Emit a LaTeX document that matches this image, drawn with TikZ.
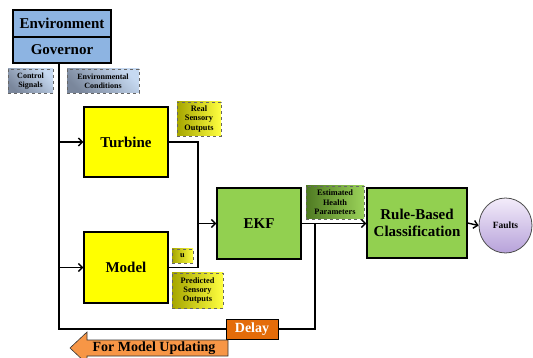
\documentclass[tikz,border=0pt]{standalone}
\usepackage{fontspec}
\setmainfont{Liberation Serif}
\usetikzlibrary{arrows.meta,shapes.geometric}
\definecolor{envblue}{HTML}{8DB4E2}
\definecolor{ylw}{HTML}{FFFF00}
\definecolor{grn}{HTML}{92D050}
\definecolor{dlyor}{HTML}{E46C0A}
\definecolor{fmuor}{HTML}{F79646}
\definecolor{bluA}{HTML}{7A879C}
\definecolor{bluB}{HTML}{C6D9F1}
\definecolor{ylwA}{HTML}{A6A600}
\definecolor{ylwB}{HTML}{FFFF40}
\definecolor{grnA}{HTML}{4F7A22}
\definecolor{grnB}{HTML}{9BD35A}
\definecolor{fltA}{HTML}{F3ECFA}
\definecolor{fltB}{HTML}{B7A2DA}
\tikzset{
  x=1pt, y=-1pt,
  box/.style={draw=black, line width=1.1pt, minimum width=#1, inner sep=0pt, font=\bfseries\fontsize{15}{18}\selectfont, align=center},
  lbl/.style={draw=gray!80!black, dashed, line width=0.8pt, inner sep=0pt, align=center, font=\bfseries\fontsize{8.3}{9.4}\selectfont},
  bluelbl/.style={lbl, left color=bluA, right color=bluB, shading angle=135},
  ylwlbl/.style={lbl, left color=ylwA, right color=ylwB},
  grnlbl/.style={lbl, left color=grnA, right color=grnB},
  conn/.style={line width=1.4pt, line join=miter},
  arr/.style={conn, -{Straight Barb[length=4pt,width=8pt,line width=1.4pt]}},
}
\begin{document}
\begin{tikzpicture}
\useasboundingbox (0,0) rectangle (533,358);
% main boxes
\node[box=98pt, minimum height=27pt, fill=envblue] (env) at (62,23.5) {Environment};
\node[box=98pt, minimum height=26pt, fill=envblue] (gov) at (62,50) {Governor};
\node[box=84pt, minimum height=70pt, fill=ylw] (turb) at (126,142) {Turbine};
\node[box=84pt, minimum height=71pt, fill=ylw] (model) at (126,267.5) {Model};
\node[box=84pt, minimum height=71pt, fill=grn] (ekf) at (259,223.5) {EKF};
\node[box=100pt, minimum height=70pt, fill=grn, font=\bfseries\fontsize{15}{17}\selectfont] (rbc) at (417,223) {Rule-Based\\Classification};
\node[ellipse, draw=black!70, line width=0.8pt, minimum width=53pt, minimum height=55pt, inner sep=0pt,
      top color=fltA, bottom color=fltB, font=\bfseries\fontsize{9.5}{11}\selectfont] (faults) at (505.5,225.5) {Faults};
\node[draw=black, line width=0.8pt, fill=dlyor, text=white, minimum width=52pt, minimum height=20pt, inner sep=0pt,
      font=\bfseries\fontsize{14}{16}\selectfont] (delay) at (252,329) {Delay};
% labels
\node[bluelbl, minimum width=45pt, minimum height=24pt, font=\bfseries\fontsize{8}{9.3}\selectfont] (cs) at (30.5,81) {Control\\Signals};
\node[bluelbl, minimum width=72pt, minimum height=24pt, font=\bfseries\fontsize{8}{9.3}\selectfont] (ec) at (103,81) {Environmental\\Conditions};
\node[ylwlbl, minimum width=44pt, minimum height=34pt] (rso) at (199,119) {Real\\Sensory\\Outputs};
\node[ylwlbl, minimum width=21pt, minimum height=14pt] (ub) at (182.5,256) {u};
\node[ylwlbl, minimum width=51pt, minimum height=35pt] (pso) at (197.5,290.5) {Predicted\\Sensory\\Outputs};
\node[grnlbl, minimum width=58pt, minimum height=33pt] (ehp) at (335,202.5) {Estimated\\Health\\Parameters};
% for model updating arrow
\draw[fill=fmuor, draw=black!80, line width=0.6pt] (70,348) -- (87,332) -- (87,340) -- (228,340) -- (228,356) -- (87,356) -- (87,364) -- cycle;
\node[font=\bfseries\fontsize{14}{16}\selectfont, inner sep=0pt] (fmu) at (154,348.5) {For Model Updating};
% connectors
\coordinate (gl) at (59,329);
\coordinate (mj) at (198,223.5);
\coordinate (ej) at (315,223.5);
\draw[conn] (gov.south -| gl) -- (gl) -- (delay.west);
\draw[arr] (turb.west -| gl) -- (turb.west);
\draw[arr] (model.west -| gl) -- (model.west);
\draw[conn] (turb.east) -| (mj);
\draw[conn] (model.east) -| (mj);
\draw[arr] (mj) -- (ekf.west);
\draw[arr] (ekf.east) -- (rbc.west |- ekf.east);
\draw[conn] (ej) |- (delay.east);
\draw[arr] (rbc.east) -- (faults.west);
\end{tikzpicture}
\end{document}
